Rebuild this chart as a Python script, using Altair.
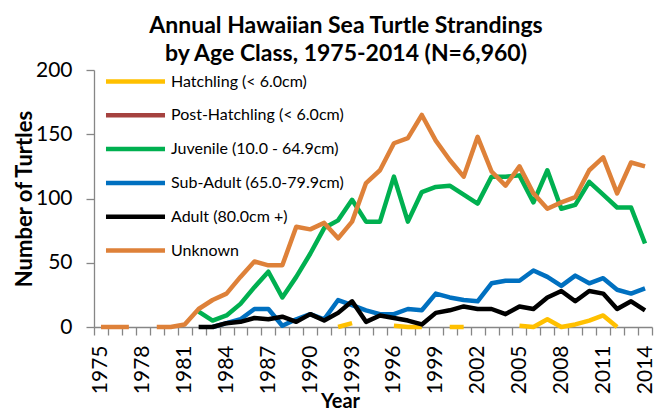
import altair as alt
import pandas as pd

years = list(range(1975, 2015))
series_names = [
    "Hatchling (< 6.0cm)",
    "Post-Hatchling (< 6.0cm)",
    "Juvenile (10.0 - 64.9cm)",
    "Sub-Adult (65.0-79.9cm)",
    "Adult (80.0cm +)",
    "Unknown",
]
colors = ["#FFC000", "#A5423F", "#00B050", "#0070C0", "#000000", "#DE8139"]

N = None
# 1975 ... 2014
hatchling = [N, N, N, N, N, N, N, N, N, N,
             N, N, N, N, N, N, N, 0, 3, N,
             N, 1, 0, 0, N, 0, 0, N, N, N,
             1, 0, 6, 0, 2, 5, 9, 0, N, N]
post_hatchling = [N] * 40
juvenile = [N, N, N, N, N, N, N, 12, 5, 9,
            18, 31, 43, 23, 39, 57, 77, 83, 99, 82,
            82, 117, 82, 105, 109, 110, 103, 96, 117, 117,
            118, 97, 122, 92, 95, 113, 103, 93, 93, 65]
sub_adult = [N, N, N, N, N, N, N, N, 0, 3,
             6, 14, 14, 1, 6, 10, 6, 21, 17, 13,
             10, 10, 14, 13, 26, 23, 21, 20, 34, 36,
             36, 44, 39, 32, 40, 34, 38, 29, 26, 30]
adult = [N, N, N, N, N, N, N, 0, 0, 3,
         4, 7, 6, 8, 4, 10, 5, 11, 20, 4,
         9, 7, 5, 2, 11, 13, 16, 14, 14, 10,
         16, 14, 23, 28, 20, 28, 26, 14, 20, 13]
unknown = [0, 0, 0, N, 0, 0, 2, 14, 21, 26,
           39, 51, 48, 48, 78, 76, 81, 69, 82, 112,
           122, 143, 147, 165, 145, 130, 117, 148, 121, 110,
           125, 104, 92, 97, 101, 122, 132, 104, 128, 125]

all_series = [hatchling, post_hatchling, juvenile, sub_adult, adult, unknown]

rows = []
for name, vals in zip(series_names, all_series):
    seg = 0
    gap = True
    for yr, v in zip(years, vals):
        if v is None:
            gap = True
            continue
        if gap:
            seg += 1
        gap = False
        rows.append({"year": yr, "count": v, "series": name, "seg": f"{name}|{seg}"})
df = pd.DataFrame(rows)

chart = alt.Chart(df).mark_line(strokeWidth=4.5, strokeJoin="round").encode(
    x=alt.X(
        "year:O",
        scale=alt.Scale(domain=years, type="band", paddingInner=0, paddingOuter=0),
        axis=alt.Axis(
            title="Year",
            tickBand="extent",
            labelAngle=270,
            labelExpr="(datum.value - 1975) % 3 == 0 ? datum.label : ''",
            labelFontSize=21,
            labelPadding=10,
            tickSize=8,
            titleFontSize=20,
            titleX=246,
            titleY=74,
            titleBaseline="middle",
        ),
    ),
    y=alt.Y(
        "count:Q",
        scale=alt.Scale(domain=[0, 200]),
        axis=alt.Axis(
            title="Number of Turtles",
            values=[0, 50, 100, 150, 200],
            labelFontSize=21,
            labelPadding=14,
            tickSize=8,
            titleFontSize=22,
            titleX=-70,
            titleBaseline="middle",
        ),
    ),
    color=alt.Color(
        "series:N",
        scale=alt.Scale(domain=series_names, range=colors),
        legend=alt.Legend(
            orient="none",
            legendX=29,
            legendY=-1,
            title=None,
            symbolType="M-3,0H3",
            symbolSize=387,
            symbolStrokeWidth=4.5,
            labelFont="Lato",
            labelFontSize=16,
            labelColor="#000000",
            labelOffset=23,
            labelLimit=0,
            rowPadding=11.8,
            padding=0,
        ),
    ),
    detail="seg:N",
).properties(
    width=558,
    height=257,
    autosize=alt.AutoSizeParams(type="none"),
    padding={"left": 86, "top": 62, "right": 5, "bottom": 85},
    title=alt.TitleParams(
        text=["Annual Hawaiian Sea Turtle Strandings", "by Age Class, 1975-2014 (N=6,960)"],
        font="Lato",
        fontSize=23,
        fontWeight="bold",
        color="#000000",
        anchor="middle",
        dx=-27,
        dy=11,
        lineHeight=28,
    ),
).configure_axis(
    grid=False,
    domainColor="#868686",
    domainWidth=1.3,
    tickColor="#868686",
    tickWidth=1.3,
    labelFont="Lato",
    labelColor="#000000",
    titleFont="Lato",
    titleFontWeight="bold",
    titleColor="#000000",
).configure_view(stroke=None)

chart.save("out.html", embed_options={"renderer": "svg", "actions": False})
